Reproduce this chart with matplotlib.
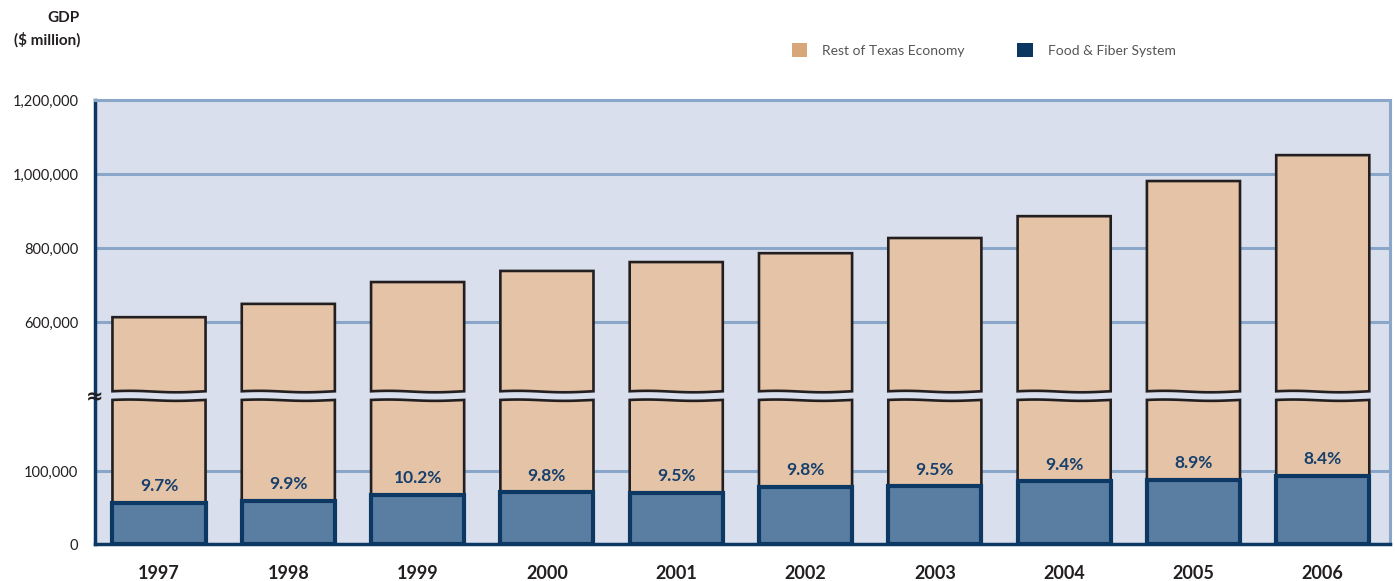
import numpy as np
import matplotlib
matplotlib.use('Agg')
import matplotlib.pyplot as plt
from matplotlib.patches import Patch

plt.rcParams['font.family'] = ['Lato', 'DejaVu Sans']

years = ['1997', '1998', '1999', '2000', '2001', '2002', '2003', '2004', '2005', '2006']
total_gdp = [613000, 649000, 708000, 738000, 762000, 786000, 827000, 886000, 981000, 1051000]
food_fiber = [56000, 59000, 67000, 71000, 70000, 78000, 79000, 86000, 88000, 93000]
food_share = ['9.7%', '9.9%', '10.2%', '9.8%', '9.5%', '9.8%', '9.5%', '9.4%', '8.9%', '8.4%']
yticks = [0, 100000, 600000, 800000, 1000000, 1200000]
ytick_labels = ['0', '100,000', '600,000', '800,000', '1,000,000', '1,200,000']

# broken axis: 0-200k on a stretched scale, 400k-1.2M compressed
LOW_END, HIGH_START = 200000, 400000
LOW_TOP, GAP_TOP = 146.0, 148.0


def fwd(v):
    v = np.asarray(v, dtype=float)
    low = v * 0.73 / 1000
    mid = LOW_TOP + (v - LOW_END) / (HIGH_START - LOW_END) * (GAP_TOP - LOW_TOP)
    high = GAP_TOP + (v - HIGH_START) * 0.37 / 1000
    return np.where(v <= LOW_END, low, np.where(v <= HIGH_START, mid, high))


def inv(y):
    y = np.asarray(y, dtype=float)
    low = y * 1000 / 0.73
    mid = LOW_END + (y - LOW_TOP) / (GAP_TOP - LOW_TOP) * (HIGH_START - LOW_END)
    high = HIGH_START + (y - GAP_TOP) * 1000 / 0.37
    return np.where(y <= LOW_TOP, low, np.where(y <= GAP_TOP, mid, high))


BG = '#d9dfec'
GRID = '#8aa7c9'
NAVY = '#0c3863'
TAN = '#e4c3a6'
BLUE = '#5a7ea2'
EDGE = '#231f20'

fig = plt.figure(figsize=(13.95, 5.81), dpi=100)
ax = fig.add_axes([95 / 1395, 1 - 544 / 581, 1295 / 1395, 444 / 581])
ax.set_yscale('function', functions=(fwd, inv))
ax.set_facecolor(BG)

x = np.arange(len(years))
w = 0.72
lower_top = 197000
upper_bottom = 412000

# rest-of-economy pieces with a gently wavy edge at the axis break
t = np.linspace(0, 1, 40)
wave = np.sin(2 * np.pi * t + 0.4)
for xi, tot in zip(x, total_gdp):
    xs = xi - w / 2 + w * t
    top_lo = lower_top + 900 * wave
    ax.fill(np.r_[xi - w / 2, xs, xi + w / 2], np.r_[0, top_lo, 0],
            facecolor=TAN, edgecolor=EDGE, linewidth=1.9, zorder=3)
    bot_hi = upper_bottom + 2000 * wave
    ax.fill(np.r_[xi - w / 2, xs, xi + w / 2, xi - w / 2],
            np.r_[tot, bot_hi, tot, tot],
            facecolor=TAN, edgecolor=EDGE, linewidth=1.9, zorder=3)

ax.bar(x, food_fiber, w, color=BLUE, edgecolor=NAVY, linewidth=3, zorder=4)

for xi, f, s in zip(x, food_fiber, food_share):
    ax.annotate(s, (xi, f), xytext=(0, 12), textcoords='offset points',
                ha='center', va='center', fontsize=12.5, fontweight='bold',
                color='#173f6c', zorder=5)

ax.set_xlim(-0.495, 9.52)
ax.set_ylim(0, 1200000)
ax.set_yticks(yticks)
ax.set_yticklabels(ytick_labels)
ax.set_xticks(x)
ax.set_xticklabels(years, fontweight='bold')
ax.tick_params(axis='y', length=0, pad=12, labelsize=10.5, labelcolor='#231f20')
ax.tick_params(axis='x', length=0, pad=15, labelsize=13, labelcolor='#231f20')

for v in yticks[1:-1]:
    ax.axhline(v, color=GRID, linewidth=2.2, zorder=1)

ax.spines['left'].set_color(NAVY)
ax.spines['left'].set_linewidth(2.5)
ax.spines['bottom'].set_color(NAVY)
ax.spines['bottom'].set_linewidth(2.5)
ax.spines['top'].set_color(GRID)
ax.spines['top'].set_linewidth(2.2)
ax.spines['right'].set_color(GRID)
ax.spines['right'].set_linewidth(2.2)

# break marker on the y axis
ax.text(0, 300000, '\u2248', transform=ax.get_yaxis_transform(), ha='center',
        va='center', fontsize=15, fontweight='bold', color='#231f20',
        family='DejaVu Sans', zorder=6, clip_on=False)

fig.text(80 / 1395, 1 - 18 / 581, 'GDP', ha='right', va='center',
         fontsize=11, fontweight='bold', color='#231f20')
fig.text(80 / 1395, 1 - 40 / 581, '($ million)', ha='right', va='center',
         fontsize=11, fontweight='bold', color='#231f20')

handles = [Patch(facecolor='#d7a679', edgecolor='none'),
           Patch(facecolor='#0b3660', edgecolor='none')]
fig.legend(handles, ['Rest of Texas Economy', 'Food & Fiber System'],
           loc='center left', bbox_to_anchor=(779 / 1395, 1 - 50 / 581),
           ncol=2, frameon=False, fontsize=10, labelcolor='#555555',
           handlelength=1.1, handleheight=1.1, columnspacing=3.8,
           handletextpad=1.1)

plt.savefig('out.png', dpi=100)
